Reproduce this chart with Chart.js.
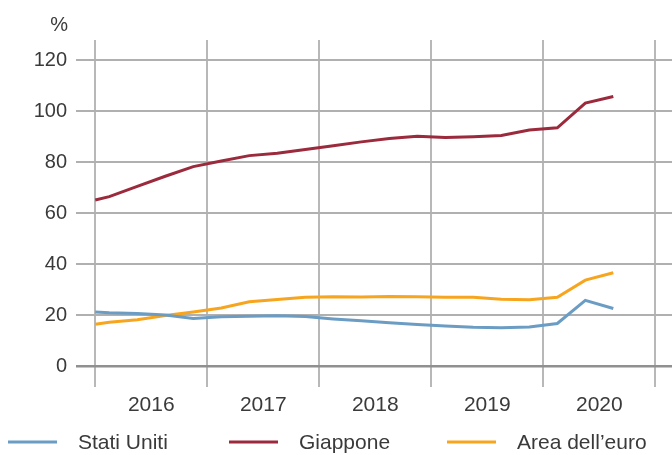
<!DOCTYPE html>
<html>
<head>
<meta charset="utf-8">
<script src="https://cdn.jsdelivr.net/npm/chart.js@4.4.1/dist/chart.umd.min.js"></script>
<style>
  html, body { margin: 0; padding: 0; background: #fff; }
  #wrap { width: 672px; height: 455px; }
</style>
</head>
<body>
<div id="wrap"><canvas id="debtChart" width="672" height="455"></canvas></div>
<script>
// time position of each observation (fraction of year), quarterly from end-2015
const periods = [2016.0,
    2016.125, 2016.375, 2016.625, 2016.875,
    2017.125, 2017.375, 2017.625, 2017.875,
    2018.125, 2018.375, 2018.625, 2018.875,
    2019.125, 2019.375, 2019.625, 2019.875,
    2020.125, 2020.375, 2020.625];

const statiUniti = [21.2, 20.9, 20.6, 20.0, 18.7, 19.3, 19.5, 19.7, 19.4, 18.5, 17.8, 17.0, 16.3, 15.7, 15.2, 15.0, 15.3, 16.7, 25.8, 22.6];
const giappone   = [65.2, 66.5, 70.5, 74.5, 78.3, 80.5, 82.6, 83.5, 85.0, 86.5, 88.0, 89.3, 90.2, 89.7, 90.0, 90.5, 92.7, 93.5, 103.2, 105.8];
const areaEuro   = [16.4, 17.2, 18.2, 19.8, 21.2, 22.8, 25.2, 26.1, 27.0, 27.2, 27.1, 27.3, 27.2, 27.0, 27.0, 26.2, 26.0, 27.0, 33.7, 36.6];

const years = [2016, 2017, 2018, 2019, 2020];
const yTicks = [0, 20, 40, 60, 80, 100, 120];
const yUnit = '%';

const seriesNames = ['Stati Uniti', 'Giappone', 'Area dell\u2019euro'];
const seriesColors = ['#6b9dc4', '#9b2a3c', '#f7a51e'];

const FONT = 'Liberation Sans, Arial, sans-serif';
const TEXT = '#3a3a3a';
const X_MIN = 2015.828, X_MAX = 2021.149;

function toPoints(vals) {
    return vals.map((v, i) => ({ x: periods[i], y: v }));
}

// legend + unit label drawn on canvas
const extras = {
    id: 'extras',
    afterDraw(chart) {
        const ctx = chart.ctx;
        ctx.save();
        ctx.font = '20px ' + FONT;
        ctx.fillStyle = TEXT;
        ctx.textAlign = 'right';
        ctx.textBaseline = 'middle';
        ctx.fillText(yUnit, 68, 25);

        const starts = [8, 229, 447];
        ctx.textAlign = 'left';
        ctx.font = '21px ' + FONT;
        chart.data.datasets.forEach((ds, i) => {
            const x0 = starts[i];
            ctx.strokeStyle = ds.borderColor;
            ctx.lineWidth = 3;
            ctx.beginPath();
            ctx.moveTo(x0, 442);
            ctx.lineTo(x0 + 49, 442);
            ctx.stroke();
            ctx.fillStyle = TEXT;
            ctx.fillText(ds.label, x0 + 70, 443);
        });
        ctx.restore();
    }
};

new Chart(document.getElementById('debtChart'), {
    type: 'line',
    data: {
        datasets: [statiUniti, giappone, areaEuro].map((vals, i) => ({
            label: seriesNames[i],
            data: toPoints(vals),
            borderColor: seriesColors[i],
            backgroundColor: seriesColors[i],
            borderWidth: 3,
            pointRadius: 0,
            tension: 0,
            xAxisID: 'x'
        }))
    },
    options: {
        responsive: false,
        devicePixelRatio: 1,
        animation: false,
        layout: { padding: { top: 40, right: 0, bottom: 35, left: 0 } },
        plugins: {
            legend: { display: false },
            tooltip: { enabled: false }
        },
        scales: {
            x: {
                type: 'linear',
                min: X_MIN, max: X_MAX,
                afterBuildTicks: s => { s.ticks = years.concat([2021]).map(v => ({ value: v })); },
                ticks: { display: false },
                grid: { color: '#b8b8b8', lineWidth: 2, drawTicks: true, tickLength: 21 },
                border: { display: false },
                afterFit: s => { s.height = 21; }
            },
            x2: {
                type: 'linear',
                position: 'bottom',
                min: X_MIN, max: X_MAX,
                afterBuildTicks: s => { s.ticks = years.map(v => ({ value: v + 0.5 })); },
                ticks: {
                    callback: v => String(Math.floor(v)),
                    font: { family: FONT, size: 21 },
                    color: TEXT,
                    padding: 6,
                    maxRotation: 0,
                    autoSkip: false
                },
                grid: { display: false, drawTicks: false },
                border: { display: false },
                afterFit: s => { s.height = 33; }
            },
            y: {
                min: 0, max: 128,
                afterBuildTicks: s => { s.ticks = yTicks.map(v => ({ value: v })); },
                ticks: {
                    font: { family: FONT, size: 20 },
                    color: TEXT,
                    padding: 9
                },
                grid: {
                    drawTicks: false,
                    color: c => c.tick && c.tick.value === 0 ? '#909090' : '#b0b0b0',
                    lineWidth: c => c.tick && c.tick.value === 0 ? 2.5 : 2
                },
                border: { display: false },
                afterFit: s => { s.width = 76; }
            }
        }
    },
    plugins: [extras]
});
</script>
</body>
</html>
